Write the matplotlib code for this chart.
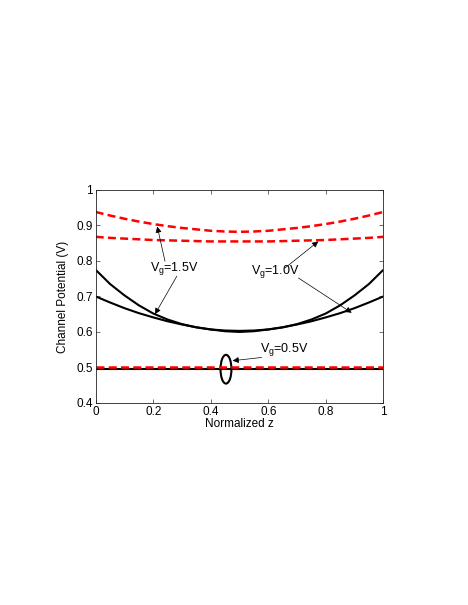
import matplotlib
matplotlib.use("Agg")
import matplotlib.pyplot as plt
from matplotlib.patches import Ellipse

plt.rcParams['font.family'] = ['Liberation Sans', 'DejaVu Sans']
plt.rcParams['mathtext.fontset'] = 'custom'
plt.rcParams['mathtext.rm'] = 'Liberation Sans'

z = [0.00, 0.05, 0.10, 0.15, 0.20, 0.25, 0.30, 0.35, 0.40, 0.45, 0.50,
     0.55, 0.60, 0.65, 0.70, 0.75, 0.80, 0.85, 0.90, 0.95, 1.00]

# Black solid (one model), red dashed (other model)
black_vg15 = [0.775, 0.735, 0.703, 0.675, 0.652, 0.635, 0.622, 0.613, 0.607, 0.604, 0.603,
              0.604, 0.607, 0.613, 0.622, 0.635, 0.652, 0.675, 0.703, 0.735, 0.775]
black_vg10 = [0.700, 0.683, 0.667, 0.653, 0.641, 0.630, 0.621, 0.613, 0.607, 0.602, 0.600,
              0.602, 0.607, 0.613, 0.621, 0.630, 0.641, 0.653, 0.667, 0.683, 0.700]
black_vg05 = [0.497] * 21
red_vg15 = [0.938, 0.928, 0.919, 0.911, 0.904, 0.898, 0.893, 0.889, 0.885, 0.883, 0.882,
            0.883, 0.885, 0.889, 0.893, 0.898, 0.904, 0.911, 0.919, 0.928, 0.938]
red_vg10 = [0.868, 0.865, 0.863, 0.861, 0.859, 0.858, 0.857, 0.856, 0.855, 0.855, 0.855,
            0.855, 0.855, 0.856, 0.857, 0.858, 0.859, 0.861, 0.863, 0.865, 0.868]
red_vg05 = [0.501] * 21

xticks = [0, 0.2, 0.4, 0.6, 0.8, 1]
xticklabels = ['0', '0.2', '0.4', '0.6', '0.8', '1']
yticks = [0.4, 0.5, 0.6, 0.7, 0.8, 0.9, 1.0]
yticklabels = ['0.4', '0.5', '0.6', '0.7', '0.8', '0.9', '1']

fig = plt.figure(figsize=(4.68, 6.05), dpi=100)
ax = fig.add_axes([0.2045, 0.334, 0.6145, 0.352])

for y in (black_vg15, black_vg10, black_vg05):
    ax.plot(z, y, color='black', lw=1.5, solid_capstyle='butt')
for y in (red_vg15, red_vg10, red_vg05):
    ax.plot(z, y, color='red', lw=1.8, linestyle=(0, (3.2, 1.7)))

ax.set_xlim(0, 1)
ax.set_ylim(0.4, 1.0)
ax.set_xticks(xticks)
ax.set_xticklabels(xticklabels)
ax.set_yticks(yticks)
ax.set_yticklabels(yticklabels)
ax.tick_params(direction='in', length=3, width=0.5, top=True, right=True,
               labelsize=8.5, pad=2, colors='#333333', labelcolor='black')
for s in ax.spines.values():
    s.set_linewidth(0.6)
    s.set_color('#222222')
ax.set_xlabel('Normalized z', fontsize=8.5, labelpad=0)
ax.set_ylabel('Channel Potential (V)', fontsize=8.5, labelpad=5)

ap = dict(arrowstyle='-|>', color='black', lw=0.5, mutation_scale=9, shrinkA=0, shrinkB=0)
fs = 9

# Vg = 1.5V
ax.text(0.273, 0.778, r'V$_\mathrm{g}$=1.5V', fontsize=fs, ha='center', va='center')
ax.annotate('', xy=(0.214, 0.897), xytext=(0.241, 0.799), arrowprops=ap)
ax.annotate('', xy=(0.206, 0.650), xytext=(0.282, 0.757), arrowprops=ap)

# Vg = 1.0V
ax.text(0.625, 0.771, r'V$_\mathrm{g}$=1.0V', fontsize=fs, ha='center', va='center')
ax.annotate('', xy=(0.774, 0.855), xytext=(0.658, 0.780), arrowprops=ap)
ax.annotate('', xy=(0.890, 0.654), xytext=(0.705, 0.752), arrowprops=ap)

# Vg = 0.5V
ax.text(0.655, 0.551, r'V$_\mathrm{g}$=0.5V', fontsize=fs, ha='center', va='center')
ax.annotate('', xy=(0.476, 0.519), xytext=(0.577, 0.528), arrowprops=ap)
ax.add_patch(Ellipse((0.453, 0.495), 0.038, 0.081, fill=False, edgecolor='black', lw=1.5))

fig.savefig('out.png', dpi=100)
